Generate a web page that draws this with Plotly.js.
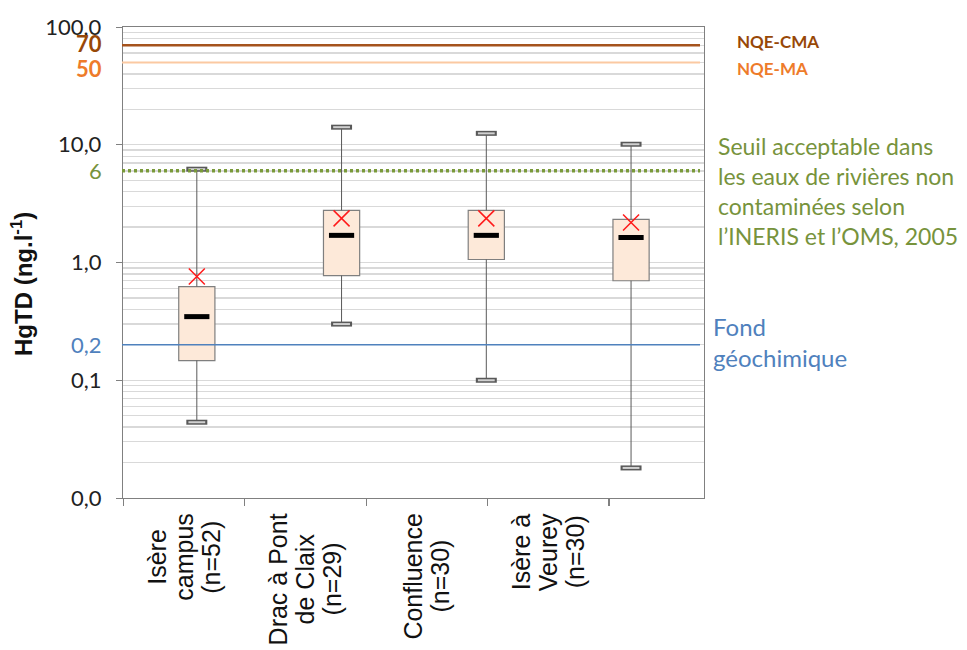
<!DOCTYPE html>
<html><head><meta charset="utf-8">
<script src="https://cdn.plot.ly/plotly-3.0.1.min.js"></script>
<style>html,body{margin:0;padding:0;background:#fff}</style>
</head><body><div id="chart" style="width:967px;height:650px"></div>
<script>
// ---- data ----
const categories = ["Isère<br>campus<br>(n=52)", "Drac à Pont<br>de Claix<br>(n=29)", "Confluence<br>(n=30)", "Isère à<br>Veurey<br>(n=30)"];
const whiskerLow  = [0.044, 0.30, 0.10, 0.018];
const q1          = [0.147, 0.775, 1.06, 0.70];
const median      = [0.347, 1.70, 1.70, 1.63];
const q3          = [0.625, 2.77, 2.77, 2.32];
const whiskerHigh = [6.2, 14.1, 12.5, 10.1];
const mean        = [0.76, 2.37, 2.37, 2.19];
const thresholdValues = [70, 50, 6, 0.2];
const thresholdLabels = ["70", "50", "6", "0,2"];
const thresholdNames  = ["NQE-CMA", "NQE-MA",
  "Seuil acceptable dans<br>les eaux de rivières non<br>contaminées selon<br>l’INERIS et l’OMS, 2005",
  "Fond<br>géochimique"];
const yTickVals = [0.01, 0.1, 1, 10, 100];
const yTickText = ["0,0", "0,1", "1,0", "10,0", "100,0"];
const yTitle = "HgTD (ng.l<sup>-1</sup>)";

// ---- styles ----
const W = 967, H = 650;
const px = v => v / W, py = v => 1 - v / H;
const thrLineColor = ["#a5531d", "#fbc9a2", "#7a9a3a", "#4f81bd"];
const thrTextColor = ["#984807", "#ee7b2a", "#77933c", "#4f81bd"];
const thrDash = ["solid", "solid", "3px,3px", "solid"];
const thrWidth = [2.5, 2, 3.5, 1.5];
const thrBold = [true, true, false, false];
const leftShift = [2, -6, 0, 0];
const rightShift = [4, -6, -20, 3];
const rightX = [735, 735, 716, 711];
const rightSize = [17, 17, 23, 24];
const FONT = "Lato, 'Open Sans', sans-serif";
const ARIAL = "'Liberation Sans', Arial, sans-serif";
const CAT_SIZE = 25, CAT_LINE = 27, CAT_TOP = 513;

// whisker segments
const wx = [], wy = [];
categories.forEach((c, i) => {
  wx.push(c, c, null, c, c, null);
  wy.push(whiskerLow[i], q1[i], null, q3[i], whiskerHigh[i], null);
});

const traces = [
  { type: "bar", x: categories, base: q1, y: q3.map((v, i) => v - q1[i]),
    width: 0.25, marker: { color: "#fde9d9", line: { color: "#7f7f7f", width: 1.2 } },
    hoverinfo: "skip", showlegend: false },
  { type: "scatter", mode: "lines", x: wx, y: wy, line: { color: "#595959", width: 1 },
    hoverinfo: "skip", showlegend: false, connectgaps: false },
  { type: "scatter", mode: "markers", x: categories.concat(categories), y: whiskerLow.concat(whiskerHigh),
    marker: { symbol: "line-ew", size: 15, color: "#595959", line: { color: "#595959", width: 5 } },
    hoverinfo: "skip", showlegend: false },
  { type: "scatter", mode: "markers", x: categories.concat(categories), y: whiskerLow.concat(whiskerHigh),
    marker: { symbol: "line-ew", size: 12, color: "#d0d0d0", line: { color: "#d0d0d0", width: 2 } },
    hoverinfo: "skip", showlegend: false },
  { type: "scatter", mode: "markers", x: categories, y: median,
    marker: { symbol: "line-ew", size: 18, color: "#000", line: { color: "#000", width: 5 } },
    hoverinfo: "skip", showlegend: false },
  { type: "scatter", mode: "markers", x: categories, y: mean,
    marker: { symbol: "x-thin", size: 16, color: "#ff1a1a", line: { color: "#ff1a1a", width: 1.5 } },
    hoverinfo: "skip", showlegend: false },
  { type: "scatter", mode: "markers", x: categories, y: categories.map(() => null), xaxis: "x2",
    hoverinfo: "skip", showlegend: false }
];

const shapes = thresholdValues.map((v, i) => ({
  type: "line", xref: "paper", yref: "y", x0: px(122), x1: px(700), y0: v, y1: v,
  line: { color: thrLineColor[i], width: thrWidth[i], dash: thrDash[i] }, layer: "above"
}));

const annotations = [];
thresholdValues.forEach((v, i) => {
  annotations.push({ xref: "paper", yref: "y", x: px(104), y: Math.log10(v), xanchor: "right", yanchor: "middle",
    text: thrBold[i] ? "<b>" + thresholdLabels[i] + "</b>" : thresholdLabels[i], showarrow: false,
    yshift: leftShift[i], font: { family: FONT, size: 22, color: thrTextColor[i] } });
  annotations.push({ xref: "paper", yref: "y", x: px(rightX[i]), y: Math.log10(v), xanchor: "left", yanchor: "middle",
    align: "left", text: thrBold[i] ? "<b>" + thresholdNames[i] + "</b>" : thresholdNames[i], showarrow: false,
    yshift: rightShift[i], font: { family: FONT, size: rightSize[i], color: thrTextColor[i] } });
});

// category labels: one rotated annotation per line, centred, tighter line spacing
const ctx = document.createElement("canvas").getContext("2d");
ctx.font = CAT_SIZE + "px 'Liberation Sans', Arial, sans-serif";
categories.forEach(c => {
  const lines = c.split("<br>");
  const maxW = Math.max(...lines.map(l => ctx.measureText(l).width));
  const centre = CAT_TOP + maxW / 2;
  lines.forEach((l, j) => {
    annotations.push({ xref: "x2", yref: "paper", x: c, y: py(centre), xanchor: "center", yanchor: "middle",
      textangle: -90, text: l, showarrow: false, xshift: (j - (lines.length - 1) / 2) * CAT_LINE,
      font: { family: ARIAL, size: CAT_SIZE, color: "#111" } });
  });
});
// y axis title
annotations.push({ xref: "paper", yref: "paper", x: px(22), y: py(284), xanchor: "center", yanchor: "middle",
  textangle: -90, text: "<b>" + yTitle + "</b>", showarrow: false,
  font: { family: ARIAL, size: 24, color: "#111" } });

const layout = {
  width: W, height: H, margin: { l: 0, r: 0, t: 0, b: 0 },
  paper_bgcolor: "#fff", plot_bgcolor: "#fff", showlegend: false, barmode: "overlay",
  xaxis: { type: "category", domain: [px(123), px(704)], range: [-0.51, 3.504],
    categoryorder: "array", categoryarray: categories,
    showticklabels: false, ticks: "", showgrid: false, zeroline: false,
    showline: true, mirror: true, linecolor: "#808080", linewidth: 1.2, automargin: false },
  xaxis2: { type: "category", overlaying: "x", anchor: "y", side: "bottom", range: [-0.502, 4.282],
    categoryorder: "array", categoryarray: categories, tickson: "boundaries",
    ticks: "outside", ticklen: 7, tickcolor: "#808080", tickwidth: 1.2,
    showticklabels: false, showgrid: false, zeroline: false, showline: false, automargin: false },
  yaxis: { type: "log", domain: [py(498), py(27)], range: [-2, 2], anchor: "x",
    tickvals: yTickVals, ticktext: yTickText, ticks: "outside", ticklen: 6, tickcolor: "#808080",
    ticklabelstandoff: 10,
    tickfont: { family: FONT, size: 22, color: "#222" },
    showgrid: true, gridcolor: "#d9d9d9", gridwidth: 1.3,
    minor: { dtick: "D1", showgrid: true, gridcolor: "#d9d9d9", gridwidth: 1.3, ticks: "" },
    showline: true, mirror: true, linecolor: "#808080", linewidth: 1.2, zeroline: false, automargin: false },
  shapes: shapes, annotations: annotations
};

Plotly.newPlot("chart", traces, layout, { staticPlot: true });
</script></body></html>
